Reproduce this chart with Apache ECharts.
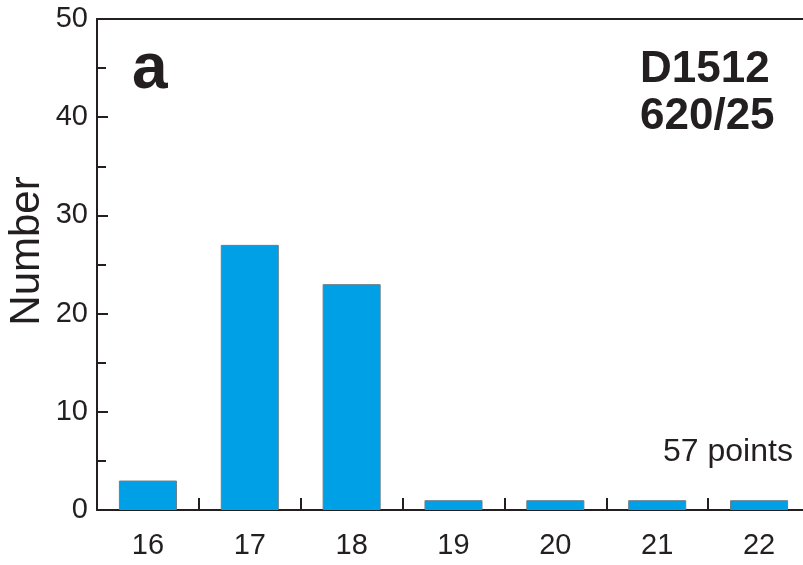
<!DOCTYPE html>
<html>
<head>
<meta charset="utf-8">
<script src="https://cdn.jsdelivr.net/npm/echarts@6/dist/echarts.min.js"></script>
<style>
  html, body { margin: 0; padding: 0; background: #fff; }
  #chart { width: 803px; height: 565px; }
</style>
</head>
<body>
<div id="chart"></div>
<script>
// Histogram of counts per class
const categories = ['16', '17', '18', '19', '20', '21', '22'];
const counts = [3, 27, 23, 1, 1, 1, 1];
const yTicks = [0, 10, 20, 30, 40, 50];

const FONT = '"Liberation Sans", Arial, sans-serif';
const INK = '#231f20';

const chart = echarts.init(document.getElementById('chart'), null, { renderer: 'canvas' });

chart.setOption({
  animation: false,
  backgroundColor: '#ffffff',
  grid: { left: 97, right: -7, top: 19, bottom: 55, containLabel: false, outerBoundsMode: 'none' },
  xAxis: [
    {
      type: 'category',
      data: categories,
      boundaryGap: true,
      axisLine: { show: true, lineStyle: { color: INK, width: 2 } },
      axisTick: { show: true, inside: true, length: 12, alignWithLabel: false, lineStyle: { color: INK, width: 2 } },
      axisLabel: { color: INK, fontFamily: FONT, fontSize: 29, margin: 21 }
    },
    {
      type: 'category',
      position: 'top',
      data: categories,
      axisLine: { show: true, lineStyle: { color: INK, width: 2 } },
      axisTick: { show: false },
      axisLabel: { show: false }
    }
  ],
  yAxis: {
    type: 'value',
    min: yTicks[0],
    max: yTicks[yTicks.length - 1],
    interval: 10,
    axisLine: { show: true, lineStyle: { color: INK, width: 2 } },
    axisTick: { show: true, inside: true, length: 11, lineStyle: { color: INK, width: 2 } },
    minorTick: { show: true, splitNumber: 2, length: 9, lineStyle: { color: INK, width: 2 } },
    axisLabel: { color: INK, fontFamily: FONT, fontSize: 29, margin: 9 },
    splitLine: { show: false }
  },
  series: [{
    type: 'bar',
    data: counts,
    barWidth: '57%',
    itemStyle: { color: '#00a0e6', borderColor: '#6b7f8a', borderWidth: 1 }
  }],
  graphic: [
    {
      // y-axis title, rotated to read bottom-to-top
      type: 'text', x: 27, y: 251, rotation: Math.PI / 2,
      style: { text: 'Number', fill: INK, font: '42px ' + FONT, textAlign: 'center', textVerticalAlign: 'middle' }
    },
    {
      type: 'text', left: 132, top: 38,
      style: { text: 'a', fill: INK, font: 'bold 64px ' + FONT }
    },
    {
      type: 'text', left: 640, top: 46,
      style: { text: 'D1512\n620/25', fill: INK, font: 'bold 44px ' + FONT, textAlign: 'left', lineHeight: 47 }
    },
    {
      type: 'text', left: 663, top: 436,
      style: { text: '57 points', fill: INK, font: '32px ' + FONT }
    }
  ]
});
</script>
</body>
</html>
